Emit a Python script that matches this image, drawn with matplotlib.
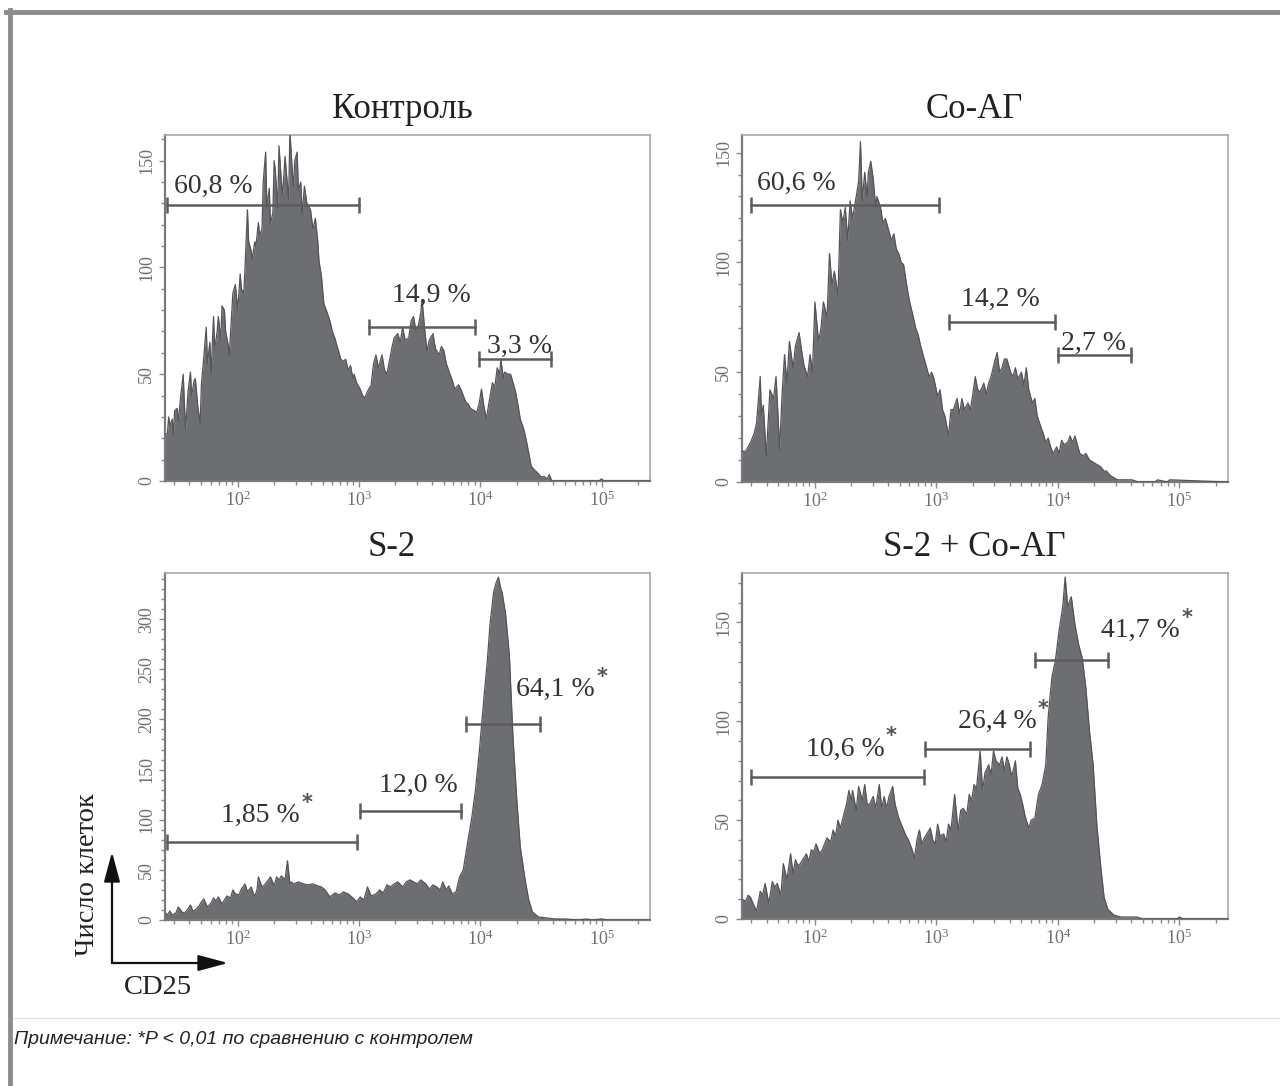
import numpy as np
import matplotlib
matplotlib.use("Agg")
import matplotlib.pyplot as plt
from matplotlib.ticker import FixedLocator, MultipleLocator, NullFormatter
from matplotlib.lines import Line2D
from matplotlib.patches import FancyArrowPatch

plt.rcParams['mathtext.fontset'] = 'custom'
plt.rcParams['mathtext.rm'] = 'Liberation Serif'
SERIF = ['Liberation Serif', 'DejaVu Serif']

# ---------------- data: CD25 histograms (log10 intensity, cell count) ----------------
control_log = [1.40, 1.42, 1.43, 1.44, 1.46, 1.47, 1.48, 1.50, 1.51, 1.53, 1.55, 1.56, 1.57, 1.59,
               1.61, 1.62, 1.64, 1.65, 1.67, 1.69, 1.70, 1.72, 1.74, 1.75, 1.77, 1.78, 1.80, 1.81,
               1.83, 1.84, 1.86, 1.87, 1.89, 1.90, 1.92, 1.93, 1.95, 1.96, 1.98, 2.00, 2.02, 2.03,
               2.05, 2.06, 2.08, 2.09, 2.11, 2.12, 2.14, 2.15, 2.17, 2.18, 2.20, 2.21, 2.23, 2.24,
               2.26, 2.27, 2.29, 2.30, 2.31, 2.33, 2.34, 2.36, 2.37, 2.39, 2.40, 2.42, 2.43, 2.45,
               2.46, 2.47, 2.49, 2.50, 2.52, 2.53, 2.55, 2.57, 2.60, 2.62, 2.64, 2.66, 2.67, 2.69,
               2.71, 2.73, 2.76, 2.78, 2.80, 2.82, 2.85, 2.87, 2.89, 2.91, 2.93, 2.95, 2.96, 2.98,
               3.01, 3.03, 3.05, 3.07, 3.10, 3.12, 3.14, 3.16, 3.19, 3.21, 3.23, 3.25, 3.27, 3.29,
               3.32, 3.34, 3.36, 3.38, 3.41, 3.43, 3.45, 3.47, 3.49, 3.51, 3.52, 3.54, 3.56, 3.58,
               3.61, 3.63, 3.66, 3.68, 3.70, 3.72, 3.75, 3.77, 3.79, 3.82, 3.84, 3.86, 3.88, 3.90,
               3.92, 3.95, 3.97, 3.99, 4.01, 4.03, 4.05, 4.07, 4.10, 4.12, 4.14, 4.16, 4.17, 4.19,
               4.20, 4.23, 4.25, 4.27, 4.29, 4.31, 4.33, 4.36, 4.38, 4.40, 4.42, 4.45, 4.47, 4.50,
               4.53, 4.55, 4.57, 4.59, 4.62, 4.98, 5.00, 5.02, 5.40]
control_count = [22, 22, 30, 26, 29, 22, 33, 34, 28, 40, 50, 36, 24, 42,
                 51, 40, 47, 48, 35, 27, 45, 58, 72, 55, 65, 50, 77, 62,
                 70, 77, 66, 82, 80, 70, 64, 59, 78, 88, 92, 80, 97, 90,
                 88, 100, 127, 112, 108, 104, 112, 110, 121, 115, 118, 140, 154, 128,
                 137, 120, 126, 150, 145, 128, 157, 140, 134, 152, 145, 132, 164, 145,
                 138, 150, 154, 136, 140, 125, 138, 130, 127, 118, 123, 112, 103, 96,
                 83, 80, 75, 70, 67, 63, 57, 56, 57, 52, 54, 48, 50, 46,
                 43, 40, 39, 42, 45, 55, 59, 53, 59, 52, 50, 56, 62, 67,
                 69, 65, 72, 66, 67, 75, 77, 70, 73, 79, 85, 72, 61, 66,
                 69, 62, 59, 63, 61, 55, 50, 47, 43, 45, 43, 40, 37, 36,
                 34, 33, 32, 36, 43, 35, 29, 36, 46, 44, 53, 50, 57, 48,
                 51, 50, 50, 46, 42, 36, 29, 24, 19, 13, 7, 5, 4, 2,
                 2, 1, 3, 0, 0, 0, 1, 0, 0]

coag_log = [1.40, 1.43, 1.47, 1.50, 1.52, 1.55, 1.56, 1.575, 1.60, 1.63, 1.66, 1.68, 1.71, 1.73,
            1.75, 1.77, 1.79, 1.82, 1.84, 1.87, 1.89, 1.91, 1.94, 1.96, 1.98, 2.00, 2.03, 2.05,
            2.07, 2.10, 2.12, 2.14, 2.16, 2.19, 2.21, 2.23, 2.25, 2.27, 2.29, 2.31, 2.34, 2.36,
            2.375, 2.39, 2.41, 2.43, 2.44, 2.46, 2.48, 2.50, 2.51, 2.54, 2.56, 2.58, 2.60, 2.63,
            2.65, 2.67, 2.69, 2.71, 2.73, 2.76, 2.78, 2.81, 2.83, 2.85, 2.87, 2.89, 2.92, 2.94,
            2.96, 2.98, 3.01, 3.03, 3.05, 3.07, 3.10, 3.12, 3.14, 3.17, 3.19, 3.21, 3.23, 3.26,
            3.28, 3.30, 3.32, 3.34, 3.36, 3.39, 3.41, 3.43, 3.45, 3.48, 3.50, 3.52, 3.54, 3.56,
            3.58, 3.61, 3.63, 3.65, 3.67, 3.70, 3.72, 3.74, 3.76, 3.79, 3.81, 3.83, 3.86, 3.88,
            3.90, 3.92, 3.94, 3.96, 3.99, 4.01, 4.03, 4.05, 4.08, 4.10, 4.12, 4.14, 4.16, 4.18,
            4.21, 4.23, 4.26, 4.29, 4.32, 4.35, 4.38, 4.40, 4.43, 4.46, 4.49, 4.52, 4.56, 4.61,
            4.66, 4.80, 4.82, 4.90, 4.92, 5.40]
coag_count = [14, 14, 18, 22, 27, 48, 30, 35, 12, 42, 38, 48, 15, 40,
              58, 45, 64, 52, 62, 68, 60, 53, 48, 58, 50, 82, 64, 70,
              82, 75, 104, 90, 96, 85, 124, 118, 125, 110, 128, 120, 130, 137,
              155, 128, 141, 130, 141, 146, 138, 125, 130, 125, 118, 120, 116, 110,
              113, 106, 104, 100, 99, 88, 82, 75, 70, 67, 62, 58, 52, 48,
              50, 47, 39, 42, 33, 30, 21, 33, 33, 38, 31, 38, 33, 36,
              33, 40, 48, 42, 41, 45, 40, 45, 48, 55, 59, 50, 52, 56,
              56, 50, 48, 52, 47, 50, 44, 52, 42, 36, 38, 30, 25, 22,
              18, 20, 16, 13, 16, 13, 19, 17, 18, 21, 18, 21, 17, 13,
              12, 13, 10, 9, 8, 7, 5, 5, 3, 2, 1, 1, 1, 1,
              0, 0, 1, 0, 1, 0]

s2_log = [1.40, 1.42, 1.44, 1.46, 1.49, 1.51, 1.54, 1.56, 1.59, 1.61, 1.63, 1.65, 1.68, 1.70,
          1.72, 1.75, 1.78, 1.80, 1.82, 1.84, 1.87, 1.89, 1.91, 1.94, 1.96, 1.98, 2.01, 2.03,
          2.06, 2.08, 2.11, 2.14, 2.16, 2.17, 2.20, 2.22, 2.24, 2.27, 2.30, 2.32, 2.34, 2.36,
          2.39, 2.41, 2.43, 2.44, 2.46, 2.50, 2.54, 2.58, 2.62, 2.66, 2.69, 2.72, 2.76, 2.80,
          2.84, 2.87, 2.91, 2.95, 2.98, 3.01, 3.04, 3.07, 3.10, 3.14, 3.17, 3.20, 3.23, 3.26,
          3.29, 3.32, 3.36, 3.39, 3.42, 3.45, 3.48, 3.51, 3.55, 3.58, 3.61, 3.64, 3.67, 3.69,
          3.72, 3.74, 3.77, 3.80, 3.83, 3.86, 3.89, 3.93, 3.96, 3.99, 4.03, 4.06, 4.08, 4.11,
          4.13, 4.15, 4.17, 4.18, 4.21, 4.24, 4.27, 4.30, 4.33, 4.37, 4.40, 4.43, 4.48, 4.55,
          4.62, 4.70, 4.80, 4.88, 4.92, 5.00, 5.05, 5.40]
s2_count = [7, 5, 9, 5, 7, 13, 8, 7, 11, 15, 9, 10, 14, 18,
            21, 13, 17, 22, 19, 23, 16, 20, 24, 22, 30, 26, 25, 31,
            36, 28, 33, 23, 31, 43, 33, 35, 38, 43, 34, 43, 40, 44,
            40, 59, 36, 38, 36, 38, 36, 35, 36, 34, 33, 30, 23, 27,
            25, 28, 26, 22, 18, 23, 20, 33, 24, 26, 30, 27, 35, 33,
            36, 38, 33, 38, 40, 38, 36, 40, 36, 31, 35, 33, 30, 38,
            30, 34, 26, 28, 43, 50, 73, 102, 129, 165, 221, 261, 294, 327,
            336, 342, 330, 327, 304, 264, 182, 122, 73, 40, 20, 8, 3, 2,
            1, 1, 0, 1, 0, 1, 0, 0]

s2coag_log = [1.40, 1.43, 1.45, 1.47, 1.49, 1.52, 1.55, 1.57, 1.59, 1.62, 1.65, 1.67, 1.69, 1.72,
              1.74, 1.77, 1.80, 1.82, 1.84, 1.86, 1.88, 1.91, 1.93, 1.95, 1.97, 1.99, 2.01, 2.04,
              2.06, 2.08, 2.10, 2.13, 2.15, 2.17, 2.19, 2.21, 2.23, 2.26, 2.28, 2.30, 2.31, 2.34,
              2.36, 2.39, 2.41, 2.43, 2.45, 2.48, 2.50, 2.53, 2.55, 2.57, 2.59, 2.61, 2.64, 2.66,
              2.69, 2.71, 2.73, 2.75, 2.77, 2.80, 2.82, 2.84, 2.86, 2.88, 2.90, 2.93, 2.95, 2.97,
              2.99, 3.01, 3.03, 3.06, 3.08, 3.10, 3.12, 3.15, 3.17, 3.18, 3.20, 3.22, 3.25, 3.27,
              3.29, 3.31, 3.33, 3.36, 3.38, 3.40, 3.43, 3.45, 3.47, 3.49, 3.52, 3.54, 3.56, 3.58,
              3.60, 3.62, 3.65, 3.67, 3.69, 3.71, 3.73, 3.76, 3.78, 3.81, 3.84, 3.87, 3.90, 3.92,
              3.95, 3.98, 4.01, 4.04, 4.06, 4.08, 4.11, 4.14, 4.17, 4.20, 4.23, 4.26, 4.29, 4.32,
              4.35, 4.38, 4.41, 4.46, 4.52, 4.58, 4.65, 4.70, 4.98, 5.00, 5.03, 5.40]
s2coag_count = [10, 9, 12, 11, 8, 4, 14, 12, 18, 8, 19, 16, 18, 12,
                28, 20, 33, 23, 30, 27, 28, 31, 33, 29, 35, 34, 38, 33,
                35, 38, 41, 39, 45, 42, 50, 46, 51, 58, 65, 60, 65, 55,
                67, 60, 68, 58, 58, 62, 56, 68, 56, 62, 56, 62, 67, 58,
                51, 48, 45, 42, 40, 35, 31, 40, 45, 38, 41, 44, 46, 40,
                38, 48, 42, 43, 39, 48, 45, 63, 50, 45, 55, 56, 53, 63,
                60, 68, 66, 85, 65, 74, 78, 73, 85, 80, 78, 82, 75, 82,
                78, 72, 80, 66, 63, 58, 52, 46, 50, 51, 63, 68, 78, 102,
                122, 131, 146, 158, 173, 158, 163, 149, 139, 132, 117, 95, 78, 48,
                28, 11, 5, 2, 1, 1, 1, 0, 0, 1, 0, 0]

# gate brackets: (start log10, end log10, count level, label, label log10 x, label count, star?)
control_gates = [(1.42, 3.00, 129, "60,8 %", 1.80, 138, False),
                 (3.08, 3.96, 72, "14,9 %", 3.60, 87, False),
                 (3.99, 4.58, 57, "3,3 %", 4.32, 63, False)]
coag_gates = [(1.47, 3.02, 126, "60,6 %", 1.85, 136, False),
              (3.10, 3.98, 73, "14,2 %", 3.53, 83, False),
              (4.00, 4.60, 58, "2,7 %", 4.29, 63, False)]
s2_gates = [(1.42, 2.98, 78, "1,85 %", 2.19, 104, True),
            (3.01, 3.84, 109, "12,0 %", 3.49, 134, False),
            (3.88, 4.49, 195, "64,1 %", 4.62, 230, True)]
s2coag_gates = [(1.47, 2.90, 72, "10,6 %", 2.25, 86, True),
                (2.91, 3.77, 86, "26,4 %", 3.50, 100, True),
                (3.81, 4.41, 131, "41,7 %", 4.68, 146, True)]

titles = ["Контроль", "Со-АГ", "S-2", "S-2 + Со-АГ"]
y_limits = [162, 158, 346, 175]
y_major = [[0, 50, 100, 150], [0, 50, 100, 150],
           [0, 50, 100, 150, 200, 250, 300], [0, 50, 100, 150]]
x_ticks = [1e2, 1e3, 1e4, 1e5]
x_ticklabels = [r"$\mathregular{10^{2}}$", r"$\mathregular{10^{3}}$",
                r"$\mathregular{10^{4}}$", r"$\mathregular{10^{5}}$"]
y_axis_label = "Число клеток"
x_axis_label = "CD25"
footnote = "Примечание: *P < 0,01 по сравнению с контролем"

# ---------------- figure layout (pixels) ----------------
W, H = 1280, 1086
fig = plt.figure(figsize=(W / 100, H / 100), dpi=100)
fig.patch.set_facecolor("white")

def px_rect(left, top, right, bottom):
    return [left / W, 1 - bottom / H, (right - left) / W, (bottom - top) / H]

boxes = [(165, 135, 650, 481), (742, 135, 1228, 482),
         (165, 573, 650, 920), (742, 573, 1228, 919)]
title_x = [402, 974, 392, 974]

series = [(control_log, control_count, control_gates),
          (coag_log, coag_count, coag_gates),
          (s2_log, s2_count, s2_gates),
          (s2coag_log, s2coag_count, s2coag_gates)]

FILL = "#6d6e71"
EDGE = "#545558"
GATE = "#5c5c5c"
TEXT = "#333333"
TICK = "#6f6f6f"

for i, (box, (lx, cnt, gates)) in enumerate(zip(boxes, series)):
    ax = fig.add_axes(px_rect(*box))
    x = 10 ** np.asarray(lx, dtype=float)
    y = np.asarray(cnt, dtype=float)
    ax.fill_between(x, y, 0, color=FILL, lw=0, zorder=2)
    ax.plot(x, y, color=EDGE, lw=0.9, zorder=3)

    ax.set_xscale("log")
    ax.set_xlim(10 ** 1.4, 10 ** 5.4)
    ax.set_ylim(0, y_limits[i])

    ax.xaxis.set_major_locator(FixedLocator(x_ticks))
    ax.set_xticklabels(x_ticklabels, fontsize=13, color=TICK, family=SERIF)
    minors = [m * 10 ** d for d in range(1, 6) for m in range(2, 10)]
    ax.xaxis.set_minor_locator(FixedLocator(minors))
    ax.xaxis.set_minor_formatter(NullFormatter())

    ax.yaxis.set_major_locator(FixedLocator(y_major[i]))
    ax.set_yticklabels([str(v) for v in y_major[i]], rotation=90, va="center",
                       fontsize=13, color=TICK, family=SERIF)
    ax.yaxis.set_minor_locator(MultipleLocator(10))

    ax.tick_params(which="both", direction="out", color="#8a8a8a", width=1)
    ax.tick_params(which="major", length=4, pad=3)
    ax.tick_params(which="minor", length=3)
    for s in ("top", "right"):
        ax.spines[s].set_color("#a8a8a8")
        ax.spines[s].set_linewidth(1.2)
    for s in ("left", "bottom"):
        ax.spines[s].set_color("#7a7a7a")
        ax.spines[s].set_linewidth(1.6)

    for (g0, g1, gy, label, tx, ty, star) in gates:
        ax.plot([10 ** g0, 10 ** g1], [gy, gy], color=GATE, lw=1.8, zorder=4,
                marker="|", markersize=11, markeredgewidth=1.8)
        t = ax.text(10 ** tx, ty, label, ha="center", va="center", fontsize=20,
                    family=SERIF, color=TEXT, zorder=5)
        if star:
            ax.annotate("*", xy=(1.0, 1.0), xycoords=t, xytext=(1, -7),
                        textcoords="offset points", ha="left", va="bottom",
                        fontsize=15, fontweight="bold", color="#555555",
                        family="DejaVu Sans")

    fig.text(title_x[i] / W, 1 - (box[1] - 25) / H, titles[i], ha="center", va="center",
             fontsize=25, family=SERIF, color="#222222")

# ---------------- overlay: frame, axis arrows, captions ----------------
ov = fig.add_axes([0, 0, 1, 1], zorder=-1)
ov.set_xlim(0, W)
ov.set_ylim(H, 0)
ov.axis("off")
ov.add_line(Line2D([6, W], [12, 12], color="#8c8c8c", lw=3.5))
ov.add_line(Line2D([10, 10], [10, H], color="#8c8c8c", lw=3.5))
ov.add_line(Line2D([14, W], [1018, 1018], color="#e4e4e4", lw=1))

ov2 = fig.add_axes([0, 0, 1, 1], zorder=5)
ov2.set_xlim(0, W)
ov2.set_ylim(H, 0)
ov2.axis("off")
ov2.patch.set_alpha(0)
for end in [(112, 852), (228, 963)]:
    ov2.add_patch(FancyArrowPatch((112, 963), end,
                                  arrowstyle="-|>,head_length=1.3,head_width=0.35",
                                  mutation_scale=14, color="#111111", lw=1.6,
                                  shrinkA=0, shrinkB=0))
ov2.text(88, 875, y_axis_label, rotation=90, ha="center", va="center",
         fontsize=20.5, family=SERIF, color="#222222")
ov2.text(158, 988, x_axis_label, ha="center", va="center",
         fontsize=20.5, family=SERIF, color="#222222")
ov2.text(14, 1040, footnote, ha="left", va="center", fontsize=14,
         style="italic", family=["Liberation Sans", "DejaVu Sans"], color="#222222")

fig.savefig("out.png", dpi=100)
